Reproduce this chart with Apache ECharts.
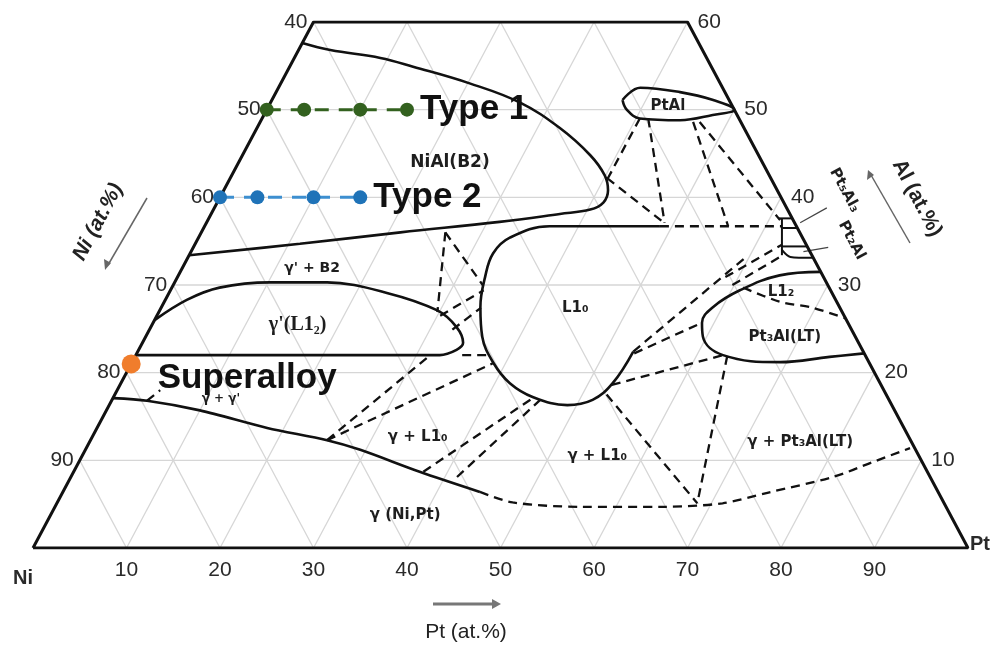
<!DOCTYPE html>
<html><head><meta charset="utf-8">
<script src="https://cdn.jsdelivr.net/npm/echarts@6/dist/echarts.min.js"></script>
<style>html,body{margin:0;padding:0;background:#fff}#c{width:994px;height:651px}</style>
</head><body><div id="c"></div>
<script>
// Ni-Pt-Al isothermal section. Every composition is [Pt at.%, Al at.%]; Ni is the balance.
const PT_TICKS = [10, 20, 30, 40, 50, 60, 70, 80, 90];
const NI_TICKS = [40, 50, 60, 70, 80, 90];
const AL_TICKS = [60, 50, 40, 30, 20, 10];
const GRID_STEPS = [10, 20, 30, 40, 50, 60, 70, 80, 90];
const AL_TOP = 60;

const frame = [[0, 0], [100, 0], [40, 60], [0, 60], [0, 0]];

const niAlB2 = [[0,57.6],[3.4,56.8],[9.2,55.9],[13.2,54.9],[20.2,53.0],[26.7,50.8],[32.4,47.9],[37.2,44.8],[39.9,42.5],[41.1,40.8],[41.3,39.4],[40.3,38.6],[37.3,38.1],[31.3,37.2],[21.3,36.0],[11.2,34.7],[0,33.4]];
const gammaPrime = [[0,26.0],[2.3,28.3],[5.1,29.7],[10.2,30.3],[16.3,30.3],[23.3,29.1],[29.7,27.1],[32.7,25.2],[34.3,23.4],[34.0,22.6],[32.5,22.0],[0,22.0]];
const gammaSolvus = [[0,17.1],[3.8,16.8],[10.0,15.7],[18.2,13.7],[25.3,12.3],[29.4,11.2],[37.0,8.7],[44.6,6.4]];
const gammaSolvusDashed = [[44.6,6.4],[48.7,5.2],[56.2,4.7],[65.0,4.7],[71.2,5.1],[75.4,6.3],[81.5,8.1],[84.9,9.8],[88.1,11.4]];
const l10Loop = [[48.7,36.7],[36.9,36.7],[33.3,35.4],[32.4,33.6],[32.9,30.9],[34.1,27.5],[36.0,24.1],[38.7,21.1],[41.6,18.8],[44.9,17.2],[49.0,16.3],[51.4,16.9],[52.6,18.8],[53.0,22.4]];
const l10TopDashed = [[48.7,36.7],[61.7,36.7]];
const pt3AlLoop = [[68.5,31.5],[64.3,31.1],[60.9,29.4],[59.0,27.5],[58.7,25.7],[59.6,24.1],[62.8,22.0],[69.3,21.2],[74.3,21.8],[77.8,22.2]];
const l12Dashed = [[61.1,29.7],[65.8,28.1],[69.7,27.4],[73.8,26.2]];
const ptAlLoop = [[37.5,51.1],[38.7,52.5],[43.2,52.0],[47.2,51.1],[50.0,50.0],[48.0,49.4],[44.8,48.8],[40.4,49.0],[38.5,50.0],[37.5,51.1]];
const ptAlPhaseLines = [
  [[60.9,37.6],[62.4,37.6]],
  [[61.3,37.6],[63.4,33.4]],
  [[61.9,36.5],[63.5,36.5]],
  [[62.9,34.4],[65.6,34.4]],
  [[63.1,34.0],[64.4,33.2],[66.8,33.1]]
];
const leaderLines = [
  [[63.5,37.1],[65.5,38.8]],
  [[65.5,33.8],[67.9,34.3]]
];
const tieLines = [
  [[40.4,49.0],[40.4,41.7]],
  [[41.3,49.0],[49.0,37.1]],
  [[40.3,42.2],[49.1,37.0]],
  [[46.3,48.6],[56.0,36.7]],
  [[47.0,48.6],[61.2,37.4]],
  [[26.1,36.0],[29.8,26.9]],
  [[26.1,36.0],[33.1,30.0]],
  [[30.3,26.5],[33.5,29.4]],
  [[32.4,24.9],[34.2,27.4]],
  [[34.9,22.0],[37.6,22.0]],
  [[25.3,12.3],[31.5,22.0]],
  [[25.3,12.3],[38.7,21.1]],
  [[37.4,8.7],[44.9,17.1]],
  [[41.3,8.1],[45.8,16.9]],
  [[52.6,17.5],[68.5,5.1]],
  [[63.3,21.9],[68.5,5.1]],
  [[53.0,22.4],[59.6,33.1]],
  [[53.2,22.2],[58.7,25.7]],
  [[52.6,18.6],[62.8,22.0]],
  [[58.6,30.9],[62.8,34.6]],
  [[59.8,30.0],[63.4,33.3]],
  [[3.8,16.8],[4.6,18.0]]
];

const type1Pt = [0, 4, 10, 15], type1Al = 50;
const type2Pt = [0, 4, 10, 15], type2Al = 40;
const superalloy = [0, 21];

const regionLabels = [
  ['NiAl(B2)', [22.6,44.0], 17],
  ["γ' + B2", [13.9,31.9], 14],
  ['L1₀', [44.3,27.4], 15],
  ['L1₂', [65.4,29.2], 15],
  ['Pt₃Al(LT)', [68.4,24.0], 15],
  ["γ + γ'", [11.6,17.0], 12],
  ['γ + L1₀', [34.8,12.7], 15],
  ['γ + L1₀', [55.1,10.5], 15],
  ['γ + Pt₃Al(LT)', [76.0,12.1], 15],
  ['γ (Ni,Pt)', [37.9,3.8], 15],
  ['PtAl', [42.7,50.4], 15]
];
const serifLabels = [["γ'(L1₂)", [15.6,25.4], 20]];
const rotatedLabels = [
  ['Pt₅Al₃', [66.4,40.8], 15],
  ['Pt₂Al', [70.0,35.1], 15]
];

// ternary [Pt, Al] -> cartesian [x, y] on the axes below
const xy = c => [c[0] + c[1] / 2, c[1]];

const SANS = "'Liberation Sans', Arial, sans-serif";
const WIDE = "'DejaVu Sans', 'Liberation Sans', sans-serif";
const series = [];

function line(pts, style, smooth, z) {
  series.push({
    type: 'line', data: pts.map(xy), showSymbol: false, symbol: 'none',
    smooth: smooth || false, lineStyle: style, z: z || 3, silent: true, animation: false
  });
}

// grid lines of constant Al, Pt and Ni
GRID_STEPS.forEach(v => {
  const g = { color: '#d6d6d6', width: 1.3 };
  if (v < AL_TOP) line([[0, v], [100 - v, v]], g, false, 1);
  line([[v, 0], [v, Math.min(AL_TOP, 100 - v)]], g, false, 1);
  const s = 100 - v;
  line(s >= AL_TOP ? [[s, 0], [s - AL_TOP, AL_TOP]] : [[s, 0], [0, s]], g, false, 1);
});

const solid = { color: '#111', width: 2.6 };
const dash = { color: '#111', width: 2.3, type: [9, 6] };
line(frame, { color: '#111', width: 3 }, false, 4);
line(niAlB2, solid, 0.4);
line(gammaPrime, solid, 0.35);
line(gammaSolvus, solid, 0.3);
line(gammaSolvusDashed, dash, 0.3);
line(l10Loop, solid, 0.4);
line(l10TopDashed, dash);
line(pt3AlLoop, solid, 0.4);
line(l12Dashed, dash, 0.3);
line(ptAlLoop, solid, 0.4);
ptAlPhaseLines.forEach(p => line(p, { color: '#111', width: 2 }, 0.3));
leaderLines.forEach(p => line(p, { color: '#444', width: 1.2 }));
tieLines.forEach(p => line(p, dash));

// alloy compositions
const BIG = { color: '#111', fontSize: 35, fontWeight: 'bold', fontFamily: SANS, opacity: 1 };
function alloyRow(pts, al, dot, link, text) {
  series.push({
    type: 'line', data: pts.map(p => xy([p, al])), symbol: 'circle', symbolSize: 14,
    itemStyle: { color: dot, opacity: 1 }, lineStyle: { color: link, width: 3, type: [14, 10] }, z: 6, animation: false,
    label: Object.assign({ show: true, formatter: p => p.dataIndex === pts.length - 1 ? text : '', position: 'right', distance: 6 }, BIG)
  });
}
alloyRow(type1Pt, type1Al, '#33611f', '#33611f', 'Type 1');
alloyRow(type2Pt, type2Al, '#1f73b8', '#3d8fd0', 'Type 2');
series.push({
  type: 'scatter', data: [xy(superalloy)], symbolSize: 19, itemStyle: { color: '#f07d2c', opacity: 1 }, z: 6, animation: false,
  label: Object.assign({ show: true, formatter: 'Superalloy', position: 'right', distance: 17, offset: [0, 14] }, BIG)
});

// text placed at compositions
function texts(items, label) {
  series.push({
    type: 'scatter', symbolSize: 0, z: 7, silent: true, animation: false,
    itemStyle: { opacity: 1 },
    data: items.map(t => ({ value: xy(t[1]), label: Object.assign({ formatter: t[0] }, t[2] ? { fontSize: t[2] } : {}) })),
    label: Object.assign({ show: true, position: 'inside', color: '#1e1e1e', fontWeight: 'bold', fontSize: 15, fontFamily: WIDE, opacity: 1 }, label)
  });
}
texts(regionLabels, {});
texts(serifLabels, { fontFamily: "'Liberation Serif', 'DejaVu Serif', serif" });
texts(rotatedLabels, { rotate: -62 });

const tick = { color: '#2a2a2a', fontSize: 21, fontFamily: SANS, fontWeight: 'normal' };
texts(NI_TICKS.map(n => [String(n), [0, 100 - n]]), Object.assign({ position: 'left', distance: 6 }, tick));
texts(AL_TICKS.map(a => [String(a), [100 - a, a]]), Object.assign({ position: 'right', distance: 10 }, tick));
texts(PT_TICKS.map(p => [String(p), [p, 0]]), Object.assign({ position: 'bottom', distance: 12 }, tick));
texts([['Ni', [0, 0]]], { position: 'bottom', distance: 20, offset: [-10, 0], fontSize: 20, color: '#2a2a2a', fontFamily: SANS });
texts([['Pt', [100, 0]]], { position: 'right', distance: 2, offset: [0, -4], fontSize: 20, color: '#2a2a2a', fontFamily: SANS });

const chart = echarts.init(document.getElementById('c'), null, { renderer: 'canvas' });
chart.setOption({
  animation: false,
  backgroundColor: '#fff',
  grid: { left: 33, right: 26, top: 22, bottom: 103 },
  xAxis: { type: 'value', min: 0, max: 100, show: false },
  yAxis: { type: 'value', min: 0, max: AL_TOP, show: false },
  series: series,
  graphic: [
    // component axis titles and direction arrows
    { type: 'text', x: 98, y: 222, rotation: 62 * Math.PI / 180, style: { text: 'Ni (at.%)', fill: '#222', font: "italic bold 21px 'Liberation Sans', Arial", textAlign: 'center', textVerticalAlign: 'middle' } },
    { type: 'text', x: 917, y: 198, rotation: -62 * Math.PI / 180, style: { text: 'Al (at.%)', fill: '#222', font: "bold 21px 'Liberation Sans', Arial", textAlign: 'center', textVerticalAlign: 'middle' } },
    { type: 'text', x: 466, y: 632, style: { text: 'Pt (at.%)', fill: '#222', font: "21px 'Liberation Sans', Arial", textAlign: 'center', textVerticalAlign: 'middle' } },
    { type: 'line', shape: { x1: 147, y1: 198, x2: 108, y2: 265 }, style: { stroke: '#666', lineWidth: 1.5 } },
    { type: 'polygon', shape: { points: [[105, 270], [104, 259], [111, 263]] }, style: { fill: '#666' } },
    { type: 'line', shape: { x1: 910, y1: 243, x2: 871, y2: 175 }, style: { stroke: '#666', lineWidth: 1.5 } },
    { type: 'polygon', shape: { points: [[868, 170], [874, 175], [867, 180]] }, style: { fill: '#666' } },
    { type: 'line', shape: { x1: 433, y1: 604, x2: 494, y2: 604 }, style: { stroke: '#777', lineWidth: 3 } },
    { type: 'polygon', shape: { points: [[501, 604], [492, 599], [492, 609]] }, style: { fill: '#777' } }
  ]
});
</script></body></html>
